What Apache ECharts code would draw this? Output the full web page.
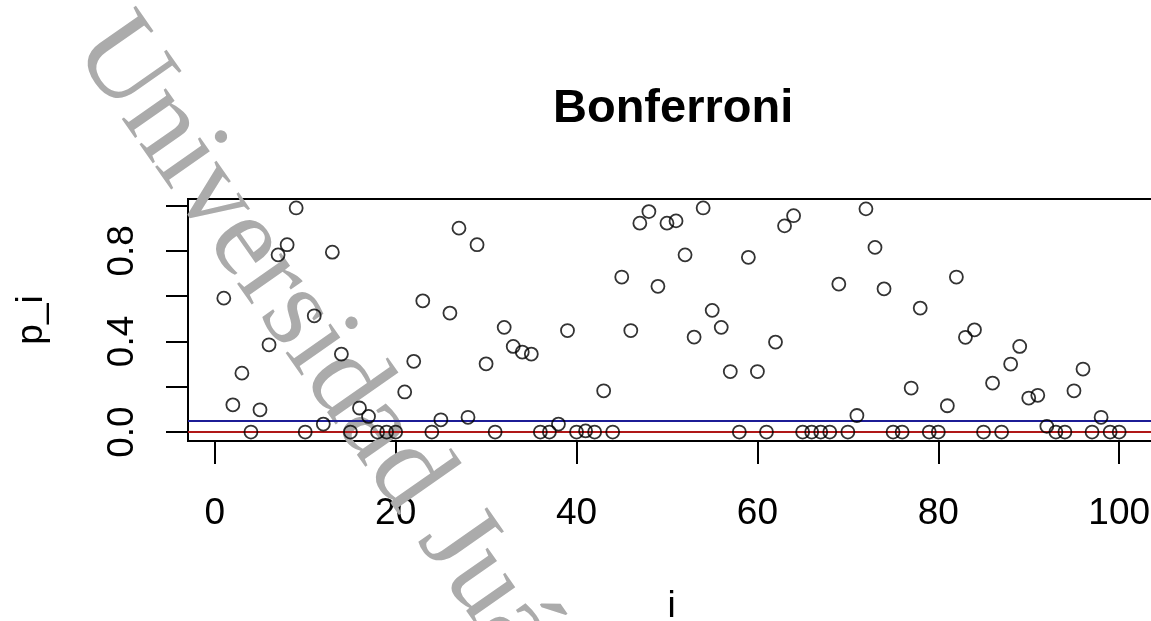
<!DOCTYPE html>
<html>
<head>
<meta charset="utf-8">
<script src="https://cdn.jsdelivr.net/npm/echarts@6/dist/echarts.min.js"></script>
<style>
  html, body { margin: 0; padding: 0; background: #fff; }
  #chart { width: 1151px; height: 621px; }
</style>
</head>
<body>
<div id="chart"></div>
<script>
// Raw p-values p_i for tests i = 1..100
const pValues = [
  0.591, 0.120, 0.260, 0.000, 0.098, 0.385, 0.782, 0.827, 0.989, 0.000,
  0.513, 0.035, 0.794, 0.344, 0.000, 0.106, 0.069, 0.000, 0.000, 0.000,
  0.177, 0.312, 0.579, 0.000, 0.054, 0.525, 0.900, 0.065, 0.827, 0.301,
  0.000, 0.462, 0.378, 0.353, 0.344, 0.000, 0.000, 0.035, 0.448, 0.000,
  0.005, 0.000, 0.182, 0.000, 0.684, 0.448, 0.922, 0.973, 0.643, 0.922,
  0.932, 0.782, 0.419, 0.989, 0.537, 0.462, 0.267, 0.000, 0.771, 0.267,
  0.000, 0.397, 0.910, 0.955, 0.000, 0.000, 0.000, 0.000, 0.653, 0.000,
  0.073, 0.985, 0.815, 0.632, 0.000, 0.000, 0.194, 0.547, 0.000, 0.000,
  0.116, 0.684, 0.418, 0.451, 0.000, 0.216, 0.000, 0.300, 0.378, 0.150,
  0.162, 0.025, 0.000, 0.000, 0.182, 0.278, 0.000, 0.065, 0.000, 0.000
];
const alpha = 0.05;                              // nominal level (blue line)
const bonferroniLevel = alpha / pValues.length;  // alpha / n (red line)

const xTicks = [0, 20, 40, 60, 80, 100];
const yTicks = [0, 0.2, 0.4, 0.6, 0.8, 1.0];
const yTickLabels = [0, 0.4, 0.8];

const points = pValues.map((p, k) => [k + 1, p]);

// base-graphics style ranges: data range padded by 4% on each side
const n = pValues.length;
const xPad = (n - 1) * 0.04;
const yMax = Math.max(...pValues), yMin = Math.min(...pValues);
const yPad = (yMax - yMin) * 0.04;

const FONT = "'Liberation Sans', Arial, sans-serif";
const frameLine = { show: true, onZero: false, lineStyle: { color: '#000', width: 2 } };

const chart = echarts.init(document.getElementById('chart'), null, { renderer: 'canvas' });
chart.setOption({
  backgroundColor: '#ffffff',
  animation: false,
  title: {
    text: 'Bonferroni',
    left: 548,
    top: 81,
    textStyle: { fontFamily: FONT, fontSize: 47, fontWeight: 'bold', color: '#000' }
  },
  grid: {
    left: 188, top: 199, right: -4, bottom: 180,
    show: true, borderColor: '#000', borderWidth: 2,
    outerBoundsMode: 'none'
  },
  xAxis: {
    type: 'value',
    min: 1 - xPad, max: n + xPad,
    name: 'i',
    nameLocation: 'middle',
    nameGap: 147,
    nameTextStyle: { fontFamily: FONT, fontSize: 37, color: '#000' },
    axisLine: frameLine,
    splitLine: { show: false },
    axisTick: { show: true, length: 23, lineStyle: { color: '#000', width: 2 }, customValues: xTicks },
    axisLabel: { fontFamily: FONT, fontSize: 37, color: '#000', margin: 54, customValues: xTicks }
  },
  yAxis: {
    type: 'value',
    min: yMin - yPad, max: yMax + yPad,
    name: 'p_i',
    nameLocation: 'middle',
    nameGap: 138,
    nameRotate: 90,
    nameTextStyle: { fontFamily: FONT, fontSize: 37, color: '#000' },
    axisLine: frameLine,
    splitLine: { show: false },
    axisTick: { show: true, length: 22, lineStyle: { color: '#000', width: 2 }, customValues: yTicks },
    axisLabel: {
      fontFamily: FONT, fontSize: 37, color: '#000', margin: 47, rotate: 90,
      customValues: yTickLabels,
      formatter: v => v.toFixed(1)
    }
  },
  series: [{
    type: 'scatter',
    data: points,
    symbol: 'circle',
    symbolSize: 13,
    z: 5,
    itemStyle: { color: 'rgba(0,0,0,0)', borderColor: '#000', borderWidth: 1.8 },
    markLine: {
      silent: true,
      symbol: 'none',
      label: { show: false },
      data: [
        { yAxis: alpha, lineStyle: { color: '#1c1c96', width: 2, type: 'solid' } },
        { yAxis: bonferroniLevel, lineStyle: { color: '#b01818', width: 2, type: 'solid' } }
      ]
    }
  }],
  graphic: [{
    type: 'text',
    x: 97, y: 30,
    rotation: -55 * Math.PI / 180,
    z: 1,
    style: {
      text: 'Universidad Juárez Autónoma de Tabasco',
      fontFamily: "'Liberation Serif', 'Times New Roman', serif",
      fontSize: 117,
      fill: '#ababab',
      textAlign: 'left',
      textVerticalAlign: 'middle'
    }
  }]
});
</script>
</body>
</html>
